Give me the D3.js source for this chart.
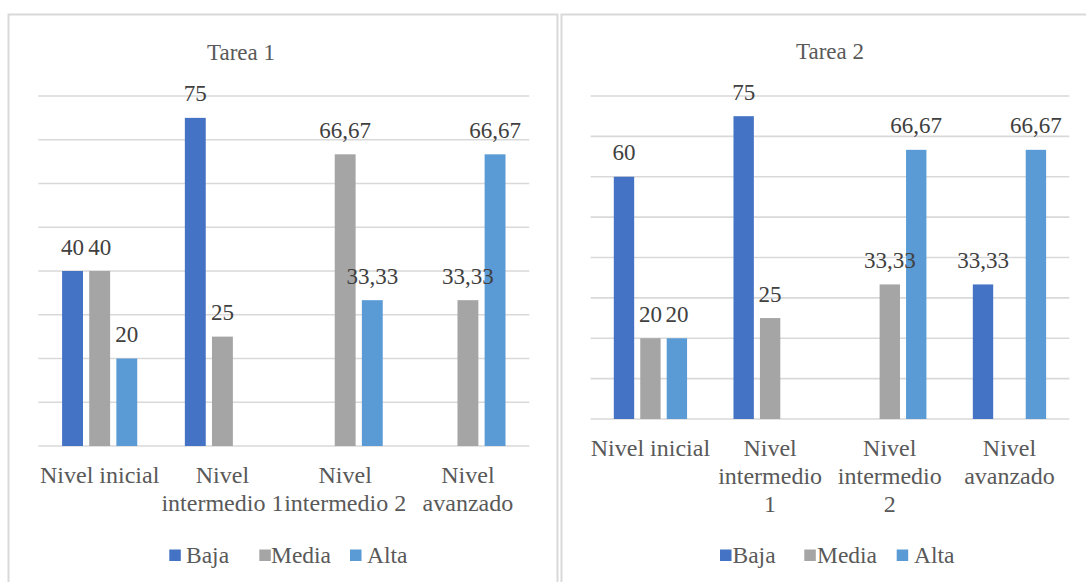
<!DOCTYPE html>
<html>
<head>
<meta charset="utf-8">
<script src="https://cdn.jsdelivr.net/npm/d3@7"></script>
<style>
  body { margin: 0; background: #fff; }
</style>
</head>
<body>
<div id="plot"></div>
<script>
const categories = ["Nivel inicial", "Nivel intermedio 1", "Nivel intermedio 2", "Nivel avanzado"];
const seriesNames = ["Baja", "Media", "Alta"];
const colors = ["#4472C4", "#A5A5A5", "#5B9BD5"];

// null = no bar, no label
const tarea1Baja = [40, 75, null, null];
const tarea1Media = [40, 25, 66.67, 33.33];
const tarea1Alta = [20, null, 33.33, 66.67];

const tarea2Baja = [60, 75, null, 33.33];
const tarea2Media = [20, 25, 33.33, null];
const tarea2Alta = [20, null, 66.67, 66.67];

const tarea1TickLabels = [["Nivel inicial"], ["Nivel", "intermedio 1"], ["Nivel", "intermedio 2"], ["Nivel", "avanzado"]];
const tarea2TickLabels = [["Nivel inicial"], ["Nivel", "intermedio", "1"], ["Nivel", "intermedio", "2"], ["Nivel", "avanzado"]];

const yMax = 80;
const yStep = 10;

const FONT = '"Liberation Serif", "Times New Roman", serif';

const svg = d3.select("#plot")
  .append("svg")
  .attr("width", 1086)
  .attr("height", 582);

function drawChart(opts) {
  const g = svg.append("g");

  // chart frame
  g.append("rect")
    .attr("x", opts.box[0])
    .attr("y", opts.box[1])
    .attr("width", opts.box[2])
    .attr("height", opts.box[3])
    .attr("fill", "#fff")
    .attr("stroke", "#d9d9d9")
    .attr("stroke-width", 2);

  const x = d3.scaleBand()
    .domain(categories)
    .range([opts.left, opts.right]);

  const bw = x.bandwidth();
  const xs = d3.scaleBand()
    .domain(seriesNames)
    .range([bw / 2 - 1.5 * 0.221 * bw, bw / 2 + 1.5 * 0.221 * bw])
    .paddingInner(0.23)
    .paddingOuter(0.115);

  const y = d3.scaleLinear()
    .domain([0, yMax])
    .range([opts.bottom, opts.top]);

  // gridlines
  g.append("g")
    .selectAll("line")
    .data(d3.range(0, yMax + yStep, yStep))
    .join("line")
    .attr("x1", opts.left)
    .attr("x2", opts.right)
    .attr("y1", d => y(d))
    .attr("y2", d => y(d))
    .attr("stroke", "#d9d9d9")
    .attr("stroke-width", 1.6);

  const rows = [];
  opts.series.forEach((vals, si) => {
    vals.forEach((v, ci) => {
      if (v != null) rows.push({ cat: categories[ci], name: seriesNames[si], value: v, color: colors[si] });
    });
  });

  g.append("g")
    .selectAll("rect")
    .data(rows)
    .join("rect")
    .attr("x", d => x(d.cat) + xs(d.name))
    .attr("width", xs.bandwidth())
    .attr("y", d => y(d.value))
    .attr("height", d => y(0) - y(d.value))
    .attr("fill", d => d.color);

  // value labels
  g.append("g")
    .selectAll("text")
    .data(rows)
    .join("text")
    .attr("x", d => x(d.cat) + xs(d.name) + xs.bandwidth() / 2)
    .attr("y", d => y(d.value) - 16.5)
    .attr("text-anchor", "middle")
    .attr("font-family", FONT)
    .attr("font-size", 23)
    .attr("fill", "#404040")
    .text(d => String(d.value).replace(".", ","));

  // category labels
  const ticks = g.append("g")
    .selectAll("text")
    .data(categories)
    .join("text")
    .attr("x", d => x(d) + bw / 2)
    .attr("y", opts.bottom + 36.5)
    .attr("text-anchor", "middle")
    .attr("font-family", FONT)
    .attr("font-size", 24)
    .attr("fill", "#595959");

  ticks.each(function(d, i) {
    d3.select(this).selectAll("tspan")
      .data(opts.tickLabels[i])
      .join("tspan")
      .attr("x", x(d) + bw / 2)
      .attr("dy", (t, j) => j === 0 ? 0 : 28)
      .text(t => t);
  });

  // title
  g.append("text")
    .attr("x", opts.titleX)
    .attr("y", opts.titleY)
    .attr("text-anchor", "middle")
    .attr("font-family", FONT)
    .attr("font-size", 23)
    .attr("fill", "#595959")
    .text(opts.title);

  // legend
  const legend = g.append("g");
  seriesNames.forEach((name, i) => {
    legend.append("rect")
      .attr("x", opts.legendSquareX[i])
      .attr("y", 549.5)
      .attr("width", 11.5)
      .attr("height", 11.5)
      .attr("fill", colors[i]);
    legend.append("text")
      .attr("x", opts.legendTextX[i])
      .attr("y", 562.5)
      .attr("font-family", FONT)
      .attr("font-size", 23.5)
      .attr("fill", "#595959")
      .text(name);
  });
}

drawChart({
  title: "Tarea 1",
  titleX: 241,
  titleY: 60,
  box: [8.5, 14.5, 549, 600],
  left: 38.3,
  right: 529.3,
  top: 96,
  bottom: 446,
  series: [tarea1Baja, tarea1Media, tarea1Alta],
  tickLabels: tarea1TickLabels,
  legendSquareX: [169.3, 259.3, 350],
  legendTextX: [186, 271, 367]
});

drawChart({
  title: "Tarea 2",
  titleX: 830,
  titleY: 58.5,
  box: [561.5, 14.5, 560, 600],
  left: 590.6,
  right: 1069.3,
  top: 96,
  bottom: 419,
  series: [tarea2Baja, tarea2Media, tarea2Alta],
  tickLabels: tarea2TickLabels,
  legendSquareX: [720, 804.3, 896.7],
  legendTextX: [732.5, 817, 914]
});
</script>
</body>
</html>
